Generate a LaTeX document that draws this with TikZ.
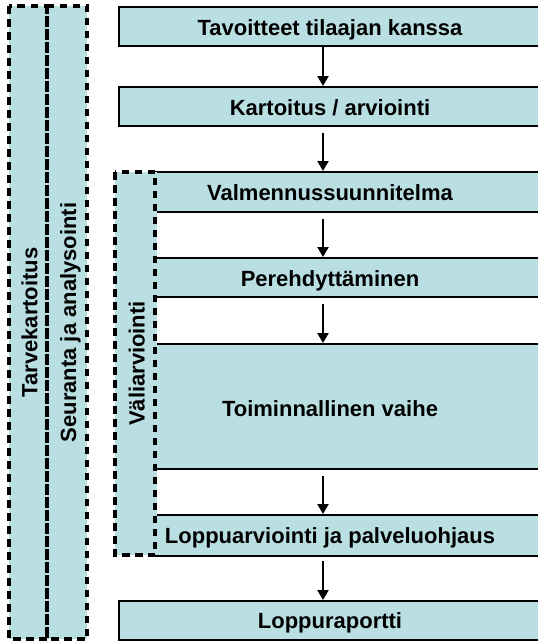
\documentclass[tikz,border=0pt]{standalone}
\usepackage{fontspec}
\setmainfont{Liberation Sans}
\usetikzlibrary{arrows.meta}
\definecolor{boxfill}{RGB}{186,223,227}
\tikzset{
  box/.style={draw=black, line width=2pt, fill=boxfill, rectangle, inner sep=0pt},
  dashbox/.style={draw=black, line width=3.2pt, dash pattern=on 7.5pt off 5.5pt},
  dashfill/.style={fill=boxfill},
  txt/.style={font=\fontsize{22}{26}\selectfont\bfseries, inner sep=0pt, anchor=base},
  vtxt/.style={font=\fontsize{22}{26}\selectfont\bfseries, inner sep=0pt, anchor=base, rotate=90},
  arr/.style={line width=2.2pt, -{Triangle[length=10pt,width=11pt]}},
}
\begin{document}
\begin{tikzpicture}[x=1pt,y=-1pt]
\clip (0,0) rectangle (538,641);
% dashed group backgrounds
\fill[dashfill] (9,6) rectangle (87,639);
\fill[dashfill] (115,172) rectangle (155,555);
% process boxes
\node[box, minimum width=426pt, minimum height=39pt] (b1) at (332,26.5) {};
\node[box, minimum width=426pt, minimum height=39pt] (b2) at (332,106.5) {};
\node[box, minimum width=390pt, minimum height=40pt] (b3) at (350,192) {};
\node[box, minimum width=390pt, minimum height=39pt] (b4) at (350,277.5) {};
\node[box, minimum width=390pt, minimum height=125pt] (b5) at (350,406.5) {};
\node[box, minimum width=390pt, minimum height=41pt] (b6) at (350,535.5) {};
\node[box, minimum width=426pt, minimum height=39pt] (b7) at (332,620.5) {};
% box texts
\node[txt] (t1) at (330,35) {Tavoitteet tilaajan kanssa};
\node[txt] (t2) at (330,115) {Kartoitus / arviointi};
\node[txt] (t3) at (330,200.5) {Valmennussuunnitelma};
\node[txt] (t4) at (330,286) {Perehdyttäminen};
\node[txt] (t5) at (330,416) {Toiminnallinen vaihe};
\node[txt] (t6) at (330,543.5) {Loppuarviointi ja palveluohjaus};
\node[txt] (t7) at (330,628.5) {Loppuraportti};
% arrows
\coordinate (ax) at (323,0);
\draw[arr] (b1.south -| ax) -- (b2.north -| ax);
\draw[arr, shorten <=6pt] (b2.south -| ax) -- (b3.north -| ax);
\draw[arr, shorten <=6pt] (b3.south -| ax) -- (b4.north -| ax);
\draw[arr, shorten <=6pt] (b4.south -| ax) -- (b5.north -| ax);
\draw[arr, shorten <=6pt] (b5.south -| ax) -- (b6.north -| ax);
\draw[arr, shorten <=4pt] (b6.south -| ax) -- (b7.north -| ax);
% dashed group outlines
\draw[line width=3.2pt, boxfill] (155,172) -- (155,555);
\draw[dashbox] (9,6) rectangle (47,639);
\draw[dashbox] (47,6) rectangle (87,639);
\draw[dashbox] (115,172) rectangle (155,555);
% vertical labels
\node[vtxt] (v1) at (37.5,322.5) {Tarvekartoitus};
\node[vtxt] (v2) at (76,322.5) {Seuranta ja analysointi};
\node[vtxt] (v3) at (144.5,363.5) {Väliarviointi};
\end{tikzpicture}
\end{document}
